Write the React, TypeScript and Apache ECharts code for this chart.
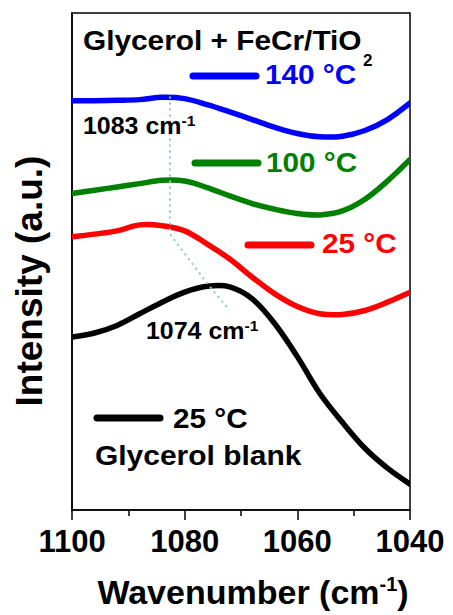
import { useEffect, useRef } from "react";
import * as echarts from "echarts";

// ---- data (intensity in arbitrary units, 0..100 axis) ----
const wavenumbers = [1100, 1096, 1092, 1088, 1084, 1080, 1076, 1072, 1068, 1064, 1060, 1056, 1052, 1048, 1044, 1040];
const intensity140 = [82.36, 82.36, 82.42, 82.57, 83.03, 82.77, 81.56, 80.1, 78.56, 77.01, 75.75, 75.09, 75.21, 76.35, 78.56, 81.9];
const intensity100 = [63.67, 64.33, 64.99, 65.67, 66.33, 66.19, 64.87, 63.19, 61.66, 60.52, 59.66, 59.38, 60.18, 62.53, 66.19, 70.54];
const intensity25 = [54.97, 55.51, 56.17, 57.37, 57.2, 56.17, 53.51, 50.5, 46.83, 43.49, 40.94, 39.48, 39.34, 40.14, 41.82, 43.83];
const intensityBlank = [34.81, 35.61, 37.13, 39.48, 41.82, 43.83, 45.0, 44.9, 42.48, 37.47, 30.86, 23.45, 17.64, 12.42, 8.42, 5.21];

const shiftWavenumbers = [1082.6, 1082.6, 1075.8, 1072.5];
const shiftIntensity = [83.2, 55.5, 45.3, 40.8];

const xMin = 1040;
const xMax = 1100;
const xInterval = 20;

const seriesNames = ["140 °C", "100 °C", "25 °C", "25 °C blank"];
const seriesColors = ["#0000ff", "#008000", "#ff0000", "#000000"];

const pairs = (xs: number[], ys: number[]) => xs.map((x, i) => [x, ys[i]]);

const FONT = "'Liberation Sans', Arial, sans-serif";

export default function App() {
  const ref = useRef<HTMLDivElement>(null);
  useEffect(() => {
    if (!ref.current) return;
    document.body.style.margin = "0";
    const chart = echarts.init(ref.current, undefined, { renderer: "svg" });
    const datasets = [
      pairs(wavenumbers, intensity140),
      pairs(wavenumbers, intensity100),
      pairs(wavenumbers, intensity25),
      pairs(wavenumbers, intensityBlank),
    ];
    const txt = (
      text: string,
      x: number,
      y: number,
      size: number,
      color: string,
      scaleX = 1,
      rich?: any
    ) => ({
      type: "text",
      x,
      y,
      scaleX,
      z: 100,
      style: {
        text,
        fill: color,
        fontSize: size,
        fontWeight: "bold",
        fontFamily: FONT,
        textAlign: "left",
        textVerticalAlign: "middle",
        rich,
      },
    });
    const legLine = (x1: number, x2: number, y: number, color: string) => ({
      type: "line",
      z: 100,
      shape: { x1, y1: y, x2, y2: y },
      style: { stroke: color, lineWidth: 7, lineCap: "round" },
    });
    const supRich = {
      sup: { fontSize: 15, fontWeight: "bold", fontFamily: FONT, verticalAlign: "top", lineHeight: 15, fill: "#000" },
      m: { fontSize: 24, fontWeight: "bold", fontFamily: FONT, lineHeight: 26, fill: "#000" },
    };
    const curveSeries = datasets.map((d, i) => ({
      name: seriesNames[i],
      type: "custom",
      data: d,
      z: 3,
      clip: true,
      encode: { x: 0, y: 1 },
      renderItem: (params: any, api: any) => {
        if (params.dataIndex !== 0) return null;
        const points = d.map((p) => api.coord(p));
        return {
          type: "polyline",
          shape: { points, smooth: 0.35 },
          style: {
            stroke: seriesColors[i],
            lineWidth: 5.5,
            fill: "none",
            lineCap: "round",
            lineJoin: "round",
          },
        };
      },
    }));
    chart.setOption({
      animation: false,
      backgroundColor: "#ffffff",
      grid: {
        left: 72,
        right: 43,
        top: 13,
        bottom: 103,
        show: true,
        borderColor: "#000",
        borderWidth: 1.5,
      },
      xAxis: {
        type: "value",
        inverse: true,
        min: xMin,
        max: xMax,
        interval: xInterval,
        axisLine: { show: true, lineStyle: { color: "#000", width: 1.5 } },
        axisTick: { show: true, inside: false, length: 10, lineStyle: { color: "#000", width: 1.5 } },
        minorTick: { show: true, splitNumber: 2, length: 6, lineStyle: { color: "#000", width: 1.5 } },
        splitLine: { show: false },
        axisLabel: {
          color: "#000",
          fontSize: 31,
          fontWeight: "bold",
          fontFamily: FONT,
          margin: 16,
          formatter: (v: number) => String(v),
        },
        name: "Wavenumber (cm{sup|-1})",
        nameLocation: "middle",
        nameGap: 64,
        nameTextStyle: {
          color: "#000",
          fontSize: 34,
          fontWeight: "bold",
          fontFamily: FONT,
          lineHeight: 36,
          padding: [0, 0, 0, 24],
          rich: {
            sup: { fontSize: 20, fontWeight: "bold", fontFamily: FONT, verticalAlign: "top", lineHeight: 20, color: "#000" },
          },
        },
      },
      yAxis: {
        type: "value",
        min: 0,
        max: 100,
        axisLine: { show: true, lineStyle: { color: "#000", width: 1.5 } },
        axisTick: { show: false },
        axisLabel: { show: false },
        splitLine: { show: false },
      },
      series: [
        ...curveSeries,
        {
          name: "peak shift",
          type: "line",
          data: pairs(shiftWavenumbers, shiftIntensity),
          smooth: false,
          symbol: "none",
          lineStyle: { color: "#8cc9c9", width: 2, type: [2, 4] },
          z: 5,
        },
      ],
      graphic: [
        {
          type: "text",
          x: 29,
          y: 281,
          rotation: Math.PI / 2,
          style: {
            text: "Intensity (a.u.)",
            fill: "#000",
            fontSize: 37,
            fontWeight: "bold",
            fontFamily: FONT,
            textAlign: "center",
            textVerticalAlign: "middle",
          },
        },
        txt("Glycerol + FeCr/TiO", 83, 40, 28, "#000", 1.065),
        txt("2", 363, 60, 17, "#000", 1.0),
        legLine(193, 256, 76, seriesColors[0]),
        txt("140 °C", 265, 74, 27, seriesColors[0], 1.1),
        legLine(195, 258, 163, seriesColors[1]),
        txt("100 °C", 266, 162, 27, seriesColors[1], 1.1),
        legLine(248, 311, 245, seriesColors[2]),
        txt("25 °C", 322, 243, 27, seriesColors[2], 1.1),
        legLine(97, 160, 418, seriesColors[3]),
        txt("25 °C", 173, 418, 27, "#000", 1.1),
        txt("Glycerol blank", 95, 455, 28, "#000", 1.07),
        txt("{m|1083 cm}{sup|-1}", 83, 126, 24, "#000", 1.04, supRich),
        txt("{m|1074 cm}{sup|-1}", 146, 331, 24, "#000", 1.04, supRich),
      ],
    });
    return () => chart.dispose();
  }, []);
  return (
    <div
      ref={ref}
      style={{ position: "absolute", left: 0, top: 0, width: 453, height: 615 }}
    />
  );
}
